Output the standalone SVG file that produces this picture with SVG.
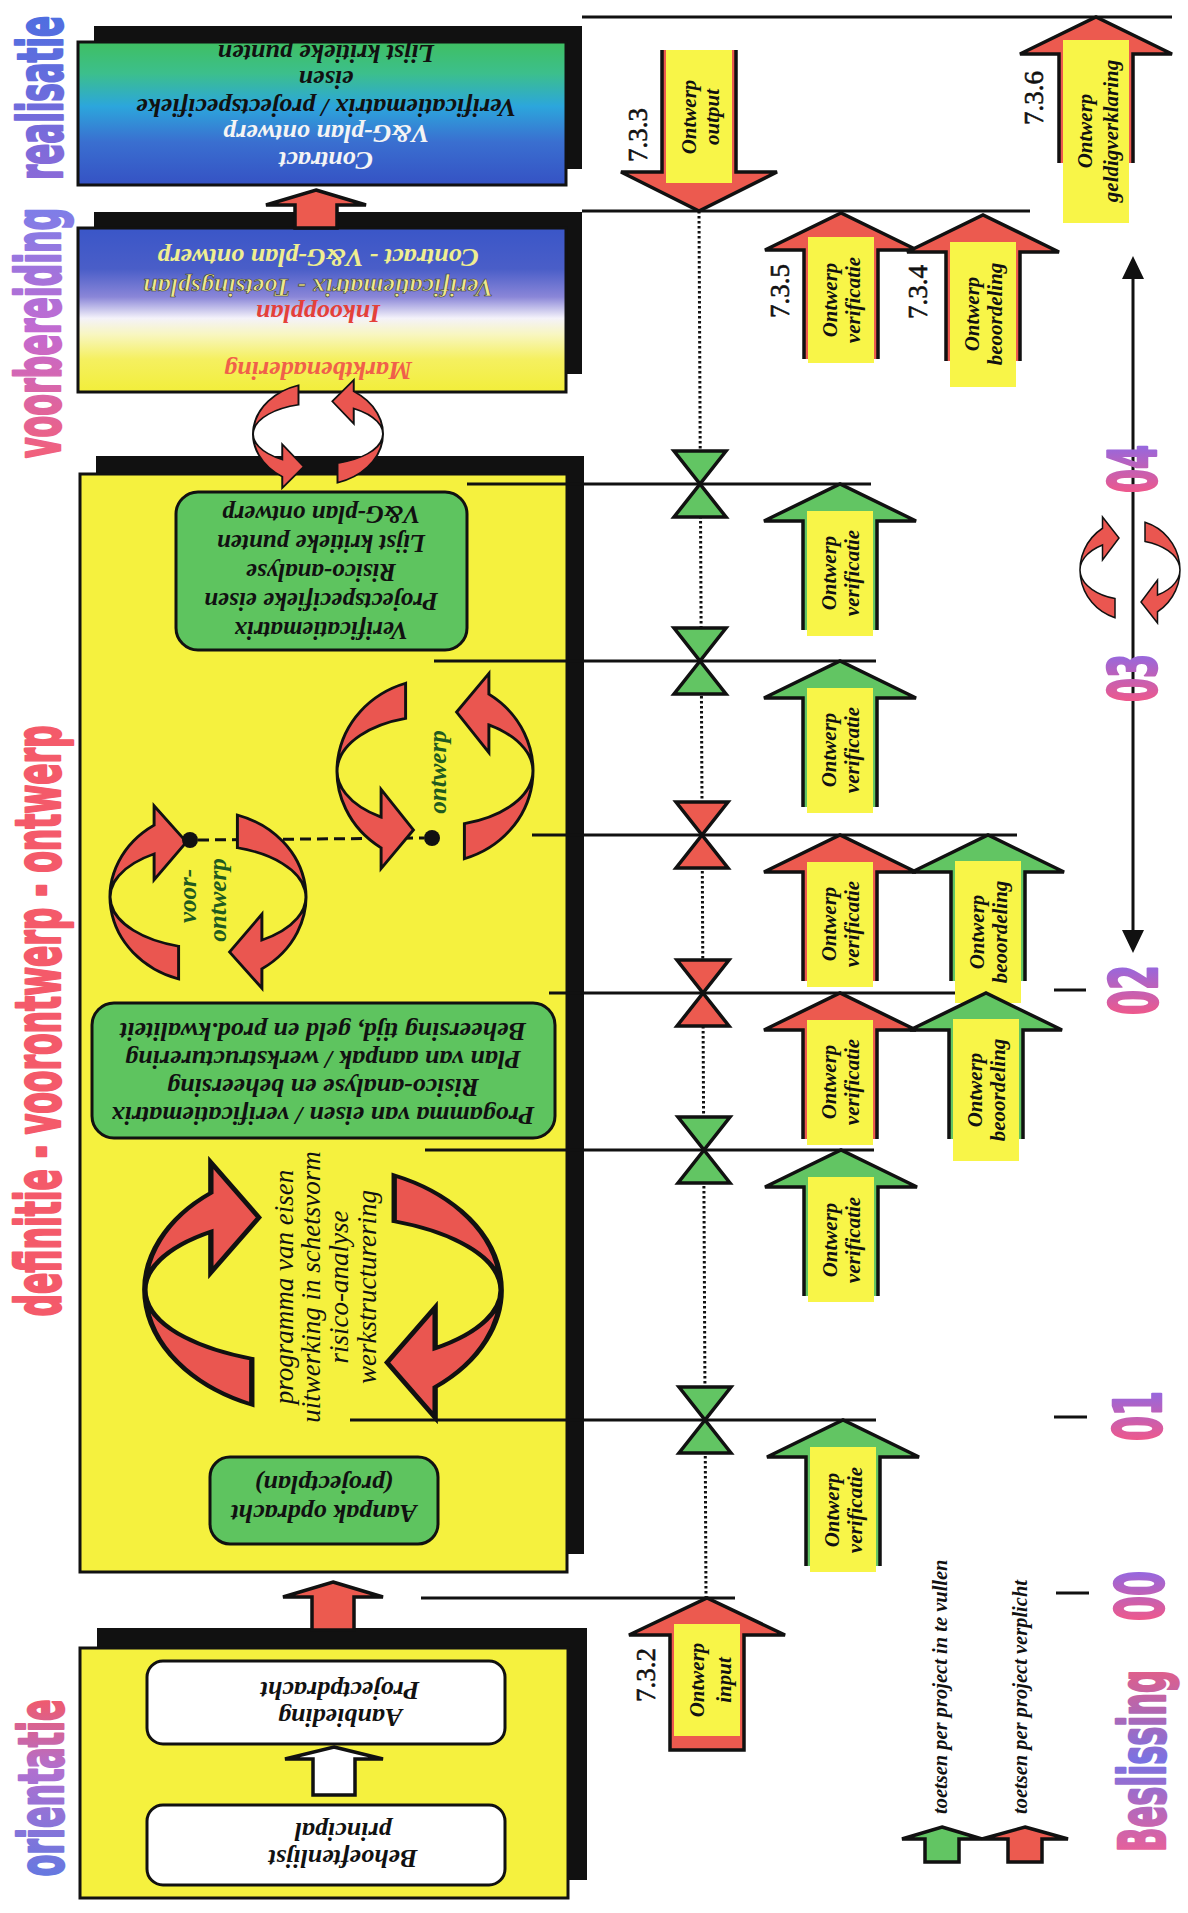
<svg xmlns="http://www.w3.org/2000/svg" xmlns:xlink="http://www.w3.org/1999/xlink" width="1188" height="1913" viewBox="0 0 1188 1913">
<defs>
<style>
.shadow{fill:#111}
.box{stroke:#111;stroke-width:3}
.ybox{fill:#f5f13e}
.gbox{fill:#5ec45f;stroke:#111;stroke-width:3}
.wbox{fill:#fff;stroke:#111;stroke-width:3}
.ln{stroke:#111;stroke-width:3;fill:none}
.dot{stroke:#111;stroke-width:3;fill:none;stroke-dasharray:2.5 2.5}
.red{fill:#ec5a4f}
.grn{fill:#62c563}
.blk{stroke:#111;stroke-width:3.5;stroke-linejoin:miter}
.lbl{fill:#f8f548}
.tb{font-family:"Liberation Serif",serif;font-weight:bold;font-style:italic;text-anchor:middle;dominant-baseline:central;fill:#111}
.s26{font-size:26px}
.s25{font-size:25px}
.s21{font-size:21px}
.ti{font-family:"Liberation Serif",serif;font-style:italic;font-size:27px;text-anchor:middle;dominant-baseline:central;fill:#111}
.tn{font-family:"Liberation Serif",serif;font-size:27px;text-anchor:middle;dominant-baseline:central;fill:#111;stroke:#111;stroke-width:0.6}
.ph{font-family:"DejaVu Sans Condensed","Liberation Sans Narrow","DejaVu Sans",sans-serif;font-weight:bold;text-anchor:middle;stroke-width:2.5;stroke-linejoin:round}
.arc{fill:#ea5650;stroke:#111;stroke-width:3;vector-effect:non-scaling-stroke}
</style>
<linearGradient id="gReal" x1="0" y1="0" x2="0" y2="1">
<stop offset="0" stop-color="#3fbf62"/>
<stop offset="0.22" stop-color="#3cbf8c"/>
<stop offset="0.45" stop-color="#2ca6dc"/>
<stop offset="0.7" stop-color="#3a6fd0"/>
<stop offset="1" stop-color="#3552c4"/>
</linearGradient>
<linearGradient id="gVoor" x1="0" y1="0" x2="0" y2="1">
<stop offset="0" stop-color="#3a56c8"/>
<stop offset="0.25" stop-color="#4a5ec8"/>
<stop offset="0.42" stop-color="#8a86d8"/>
<stop offset="0.55" stop-color="#f4f2fa"/>
<stop offset="0.65" stop-color="#f8f6c0"/>
<stop offset="0.8" stop-color="#f5f060"/>
<stop offset="1" stop-color="#f2ee3a"/>
</linearGradient>
<linearGradient id="tReal" x1="0" y1="0" x2="1" y2="0">
<stop offset="0" stop-color="#8a6ad8"/><stop offset="1" stop-color="#4f6ee0"/>
</linearGradient>
<linearGradient id="tVoor" x1="0" y1="0" x2="1" y2="0">
<stop offset="0" stop-color="#f2607a"/><stop offset="0.5" stop-color="#c46ad0"/><stop offset="1" stop-color="#7d7ee8"/>
</linearGradient>
<linearGradient id="tOri" x1="0" y1="0" x2="1" y2="0">
<stop offset="0" stop-color="#6578e0"/><stop offset="0.6" stop-color="#b070d0"/><stop offset="1" stop-color="#f05a6c"/>
</linearGradient>
<linearGradient id="tBes" x1="0" y1="0" x2="1" y2="0">
<stop offset="0" stop-color="#e8609a"/><stop offset="0.5" stop-color="#7a72e2"/><stop offset="1" stop-color="#e05e8a"/>
</linearGradient>
<linearGradient id="tNum" x1="0" y1="0" x2="1" y2="0">
<stop offset="0" stop-color="#f0588a"/><stop offset="1" stop-color="#9468e0"/>
</linearGradient>
<path id="up" d="M-37,146 V37 H-76 L0,0 L76,37 H37 V146"/>
<path id="hg" d="M-26,-33 H26 L-26,33 H26 Z"/>
<path id="arcL" d="M-30,-95.4 A100,100 0 0 0 -55,83.5 L-55,106 L-22,64 L-55,20 L-55,50.1 A100,60 0 0 1 -30,-57.2 Z"/>
<path id="arcS" d="M-40,-91.7 A100,100 0 0 0 -63,77.7 L-63,102 L-36,58 L-63,14 L-63,46.6 A100,60 0 0 1 -40,-55 Z"/>
<g id="pairCCW">
<use xlink:href="#arcL" class="arc"/>
<use xlink:href="#arcL" class="arc" transform="rotate(180)"/>
</g>
<g id="pairSlim">
<use xlink:href="#arcS" class="arc"/>
<use xlink:href="#arcS" class="arc" transform="rotate(180)"/>
</g>
</defs>

<rect width="1188" height="1913" fill="#fff"/>

<g id="phase-labels">
<text class="ph" transform="translate(62,98) rotate(-90) scale(0.6,1)" font-size="62" textLength="273" lengthAdjust="spacingAndGlyphs" fill="url(#tReal)" stroke="url(#tReal)">realisatie</text>
<text class="ph" transform="translate(60,333) rotate(-90) scale(0.6,1)" font-size="62" textLength="417" lengthAdjust="spacingAndGlyphs" fill="url(#tVoor)" stroke="url(#tVoor)">voorbereiding</text>
<text class="ph" transform="translate(60,1021) rotate(-90) scale(0.6,1)" font-size="62" textLength="985" lengthAdjust="spacingAndGlyphs" fill="#f45a6a" stroke="#f45a6a">definitie - voorontwerp - ontwerp</text>
<text class="ph" transform="translate(63,1788) rotate(-90) scale(0.6,1)" font-size="62" textLength="295" lengthAdjust="spacingAndGlyphs" fill="url(#tOri)" stroke="url(#tOri)">orientatie</text>
<text class="ph" transform="translate(1165,1761) rotate(-90) scale(0.6,1)" font-size="64" textLength="303" lengthAdjust="spacingAndGlyphs" fill="url(#tBes)" stroke="url(#tBes)">Beslissing</text>
</g>

<g id="realisatie">
<rect class="shadow" x="94" y="26" width="488" height="143"/>
<rect class="box" x="78" y="42" width="488" height="143" fill="url(#gReal)"/>
<g transform="translate(326,107) rotate(180)">
<text class="tb s26" y="-53" style="fill:#f4f4f4">Contract</text>
<text class="tb s26" y="-26" style="fill:#f4f4f4">V&amp;G-plan ontwerp</text>
<text class="tb s26" y="0">Verificatiematrix / projectspecifieke</text>
<text class="tb s26" y="28">eisen</text>
<text class="tb s26" y="54">Lijst kritieke punten</text>
</g>
</g>

<g id="voorbereiding">
<rect class="shadow" x="94" y="212" width="488" height="162"/>
<rect class="box" x="78" y="228" width="488" height="164" fill="url(#gVoor)"/>
<g transform="translate(318,312) rotate(180)">
<text class="tb s26" y="-58" style="fill:#f0604a">Marktbenadering</text>
<text class="tb s26" y="-1" style="fill:#e4403a">Inkoopplan</text>
<text class="tb s26" y="25" style="fill:#efe98a;stroke:#333;stroke-width:0.6">Verificatiematrix - Toetsingsplan</text>
<text class="tb s26" y="55" style="fill:#efee90">Contract - V&amp;G-plan ontwerp</text>
</g>
</g>

<g id="definitie">
<rect class="shadow" x="96" y="456" width="488" height="1098"/>
<rect class="box ybox" x="80" y="474" width="487" height="1098"/>
</g>

<g id="box-verificatiematrix">
<rect class="gbox" x="176" y="492" width="291" height="158" rx="22"/>
<g transform="translate(321,572) rotate(180)">
<text class="tb s25" y="-58">Verificatiematrix</text>
<text class="tb s25" y="-29">Projectspecifieke eisen</text>
<text class="tb s25" y="0">Risico-analyse</text>
<text class="tb s25" y="29">Lijst kritieke punten</text>
<text class="tb s25" y="58">V&amp;G-plan ontwerp</text>
</g>
</g>

<g id="box-programma">
<rect class="gbox" x="92" y="1003" width="463" height="135" rx="22"/>
<g transform="translate(323,1073) rotate(180)">
<text class="tb s26" y="-42">Progamma van eisen / verificatiematrix</text>
<text class="tb s26" y="-14">Risico-analyse en beheersing</text>
<text class="tb s26" y="14">Plan van aanpak / werkstructurering</text>
<text class="tb s26" y="42">Beheersing tijd, geld en prod.kwaliteit</text>
</g>
</g>

<g id="box-aanpak">
<rect class="gbox" x="210" y="1457" width="228" height="87" rx="20"/>
<g transform="translate(324,1499) rotate(180)">
<text class="tb s26" y="-14">Aanpak opdracht</text>
<text class="tb s26" y="15">(projectplan)</text>
</g>
</g>

<g id="orientatie">
<rect class="shadow" x="97" y="1628" width="490" height="252"/>
<rect class="box ybox" x="80" y="1648" width="488" height="250"/>
</g>

<g id="box-aanbieding">
<rect class="wbox" x="147" y="1661" width="358" height="83" rx="16"/>
<g transform="translate(340,1703) rotate(180)">
<text class="tb s26" y="-14">Aanbieding</text>
<text class="tb s26" y="13">Projectpdracht</text>
</g>
</g>

<g id="box-behoeftenlijst">
<rect class="wbox" x="147" y="1805" width="358" height="80" rx="16"/>
<g transform="translate(343,1844) rotate(180)">
<text class="tb s26" y="-14">Behoeftenlijst</text>
<text class="tb s26" y="13">principal</text>
</g>
</g>

<g id="cycles">
<use xlink:href="#pairCCW" transform="translate(318,434) scale(0.65,0.51)"/>
<line x1="198" y1="840" x2="424" y2="838" stroke="#111" stroke-width="3" stroke-dasharray="11 6"/>
<use xlink:href="#pairCCW" transform="translate(435,771) scale(0.98,0.92)"/>
<use xlink:href="#pairCCW" transform="translate(208,897) scale(0.98,-0.86)"/>
<use xlink:href="#pairSlim" transform="translate(323,1290) scale(1.78,-1.25)"/>
<use xlink:href="#pairCCW" transform="translate(1130,570) scale(0.5,-0.5)"/>
<circle cx="190" cy="840" r="8" fill="#111"/>
<circle cx="432" cy="838" r="8" fill="#111"/>
<g transform="translate(437,772) rotate(-90)"><text class="tb s25" style="fill:#1f5a1f">ontwerp</text></g>
<g transform="translate(202,900) rotate(-90)">
<text class="tb s25" x="4" y="-15" style="fill:#1f5a1f">voor-</text>
<text class="tb s25" y="15" style="fill:#1f5a1f">ontwerp</text>
</g>
<g transform="translate(325,1287) rotate(-90)">
<text class="ti" y="-41">programma van eisen</text>
<text class="ti" y="-14">uitwerking in schetsvorm</text>
<text class="ti" y="14">risico-analyse</text>
<text class="ti" y="42">werkstructurering</text>
</g>
</g>

<g id="connectors">
<path class="blk red" d="M316,190 L366,205 H337 V228 H295 V205 H266 Z"/>
<path class="blk red" d="M333,1582 L383,1597 H354 V1630 H312 V1597 H283 Z"/>
<path class="blk" fill="#fff" d="M334,1747 L383,1759 H355 V1795 H313 V1759 H285 Z"/>
<line class="ln" x1="582" y1="17" x2="1172" y2="17"/>
<line class="ln" x1="582" y1="211" x2="1030" y2="211"/>
<line class="ln" x1="467" y1="484" x2="871" y2="484"/>
<line class="ln" x1="434" y1="661" x2="876" y2="661"/>
<line class="ln" x1="532" y1="835" x2="1017" y2="835"/>
<line class="ln" x1="549" y1="993" x2="990" y2="993"/>
<line class="ln" x1="425" y1="1150" x2="874" y2="1150"/>
<line class="ln" x1="350" y1="1420" x2="876" y2="1420"/>
<line class="ln" x1="421" y1="1598" x2="735" y2="1598"/>
<line class="dot" x1="699" y1="211" x2="706" y2="1598"/>
<line class="ln" x1="1133" y1="272" x2="1133" y2="938"/>
<path d="M1133,256 L1144,279 H1122 Z M1133,953 L1144,930 H1122 Z" fill="#111"/>
<line class="ln" x1="1054" y1="990" x2="1086" y2="990" stroke-width="3.5"/>
<line class="ln" x1="1054" y1="1417" x2="1087" y2="1417" stroke-width="3.5"/>
<line class="ln" x1="1056" y1="1593" x2="1089" y2="1593" stroke-width="3.5"/>
</g>

<g id="milestones">
<use xlink:href="#hg" class="blk grn" x="700" y="484"/>
<use xlink:href="#hg" class="blk grn" x="700" y="661"/>
<use xlink:href="#hg" class="blk red" x="702" y="835"/>
<use xlink:href="#hg" class="blk red" x="703" y="993"/>
<use xlink:href="#hg" class="blk grn" x="704" y="1150"/>
<use xlink:href="#hg" class="blk grn" x="705" y="1420"/>
</g>

<g id="arrow-733">
<path class="blk red" transform="translate(699,211)" d="M-37,-161 V-39 H-78 L0,0 L78,-39 H37 V-161"/>
<rect class="lbl" x="666" y="50" width="66" height="133"/>
<g transform="translate(699,117) rotate(-90)"><text class="tb s21" y="-10">Ontwerp</text><text class="tb s21" y="13">output</text></g>
<text class="tn" x="638" y="135" transform="rotate(-90 638 135)">7.3.3</text>
</g>

<g id="arrow-736">
<use xlink:href="#up" class="blk red" x="1096" y="17"/>
<rect class="lbl" x="1063" y="40" width="66" height="183"/>
<g transform="translate(1096,131) rotate(-90)"><text class="tb s21" y="-11">Ontwerp</text><text class="tb s21" y="15">geldigverklaring</text></g>
<text class="tn" x="1034" y="98" transform="rotate(-90 1034 98)">7.3.6</text>
</g>

<g id="arrow-735">
<use xlink:href="#up" class="blk red" x="841" y="213"/>
<rect class="lbl" x="808" y="237" width="66" height="126"/>
<g transform="translate(841,300) rotate(-90)"><text class="tb s21" y="-11">Ontwerp</text><text class="tb s21" y="12">verificatie</text></g>
<text class="tn" x="780" y="291" transform="rotate(-90 780 291)">7.3.5</text>
</g>

<g id="arrow-734">
<use xlink:href="#up" class="blk red" x="983" y="215"/>
<rect class="lbl" x="950" y="242" width="66" height="145"/>
<g transform="translate(983,314) rotate(-90)"><text class="tb s21" y="-11">Ontwerp</text><text class="tb s21" y="12">beoordeling</text></g>
<text class="tn" x="918" y="292" transform="rotate(-90 918 292)">7.3.4</text>
</g>

<g id="arrow-a-verificatie">
<use xlink:href="#up" class="blk grn" x="840" y="484"/>
<rect class="lbl" x="807" y="511" width="66" height="125"/>
<g transform="translate(840,573) rotate(-90)"><text class="tb s21" y="-11">Ontwerp</text><text class="tb s21" y="12">verificatie</text></g>
</g>
<g id="arrow-b-verificatie">
<use xlink:href="#up" class="blk grn" x="840" y="661"/>
<rect class="lbl" x="807" y="688" width="66" height="125"/>
<g transform="translate(840,750) rotate(-90)"><text class="tb s21" y="-11">Ontwerp</text><text class="tb s21" y="12">verificatie</text></g>
</g>
<g id="arrow-c-verificatie">
<use xlink:href="#up" class="blk red" x="840" y="835"/>
<rect class="lbl" x="807" y="862" width="66" height="125"/>
<g transform="translate(840,924) rotate(-90)"><text class="tb s21" y="-11">Ontwerp</text><text class="tb s21" y="12">verificatie</text></g>
</g>
<g id="arrow-c-beoordeling">
<use xlink:href="#up" class="blk grn" x="988" y="835"/>
<rect class="lbl" x="955" y="861" width="66" height="142"/>
<g transform="translate(988,932) rotate(-90)"><text class="tb s21" y="-11">Ontwerp</text><text class="tb s21" y="12">beoordeling</text></g>
</g>
<g id="arrow-d-verificatie">
<use xlink:href="#up" class="blk red" x="840" y="993"/>
<rect class="lbl" x="807" y="1020" width="66" height="125"/>
<g transform="translate(840,1082) rotate(-90)"><text class="tb s21" y="-11">Ontwerp</text><text class="tb s21" y="12">verificatie</text></g>
</g>
<g id="arrow-d-beoordeling">
<use xlink:href="#up" class="blk grn" x="986" y="993"/>
<rect class="lbl" x="953" y="1019" width="66" height="142"/>
<g transform="translate(986,1090) rotate(-90)"><text class="tb s21" y="-11">Ontwerp</text><text class="tb s21" y="12">beoordeling</text></g>
</g>
<g id="arrow-e-verificatie">
<use xlink:href="#up" class="blk grn" x="841" y="1150"/>
<rect class="lbl" x="808" y="1177" width="66" height="125"/>
<g transform="translate(841,1240) rotate(-90)"><text class="tb s21" y="-11">Ontwerp</text><text class="tb s21" y="12">verificatie</text></g>
</g>
<g id="arrow-f-verificatie">
<use xlink:href="#up" class="blk grn" x="843" y="1420"/>
<rect class="lbl" x="810" y="1447" width="66" height="125"/>
<g transform="translate(843,1510) rotate(-90)"><text class="tb s21" y="-11">Ontwerp</text><text class="tb s21" y="12">verificatie</text></g>
</g>

<g id="arrow-732">
<path class="blk red" transform="translate(707,1598)" d="M-37,152 V37 H-78 L0,0 L78,37 H37 V152 Z"/>
<rect class="lbl" x="674" y="1624" width="66" height="112"/>
<g transform="translate(707,1680) rotate(-90)"><text class="tb s21" y="-10">Ontwerp</text><text class="tb s21" y="17">input</text></g>
<text class="tn" x="646" y="1675" transform="rotate(-90 646 1675)">7.3.2</text>
</g>

<g id="decisions">
<text class="ph" transform="translate(1133,469) rotate(-90) scale(0.6,1)" font-size="66" textLength="80" lengthAdjust="spacingAndGlyphs" dominant-baseline="central" fill="url(#tNum)" stroke="url(#tNum)">04</text>
<text class="ph" transform="translate(1133,678) rotate(-90) scale(0.6,1)" font-size="66" textLength="80" lengthAdjust="spacingAndGlyphs" dominant-baseline="central" fill="url(#tNum)" stroke="url(#tNum)">03</text>
<text class="ph" transform="translate(1134,990) rotate(-90) scale(0.6,1)" font-size="66" textLength="83" lengthAdjust="spacingAndGlyphs" dominant-baseline="central" fill="url(#tNum)" stroke="url(#tNum)">02</text>
<text class="ph" transform="translate(1138,1416) rotate(-90) scale(0.6,1)" font-size="66" textLength="83" lengthAdjust="spacingAndGlyphs" dominant-baseline="central" fill="url(#tNum)" stroke="url(#tNum)">01</text>
<text class="ph" transform="translate(1140,1596) rotate(-90) scale(0.6,1)" font-size="66" textLength="83" lengthAdjust="spacingAndGlyphs" dominant-baseline="central" fill="url(#tNum)" stroke="url(#tNum)">00</text>
</g>

<g id="legend">
<path class="blk grn" stroke-width="3" d="M942,1827 L982,1839 H959 V1862 H925 V1839 H902 Z"/>
<path class="blk red" stroke-width="3" d="M1025,1827 L1068,1839 H1042 V1862 H1008 V1839 H982 Z"/>
<text class="tb" x="940" y="1814" transform="rotate(-90 940 1814)" style="text-anchor:start;font-size:20.5px">toetsen per project in te vullen</text>
<text class="tb" x="1020" y="1814" transform="rotate(-90 1020 1814)" style="text-anchor:start;font-size:20.5px">toetsen per project verplicht</text>
</g>
</svg>
